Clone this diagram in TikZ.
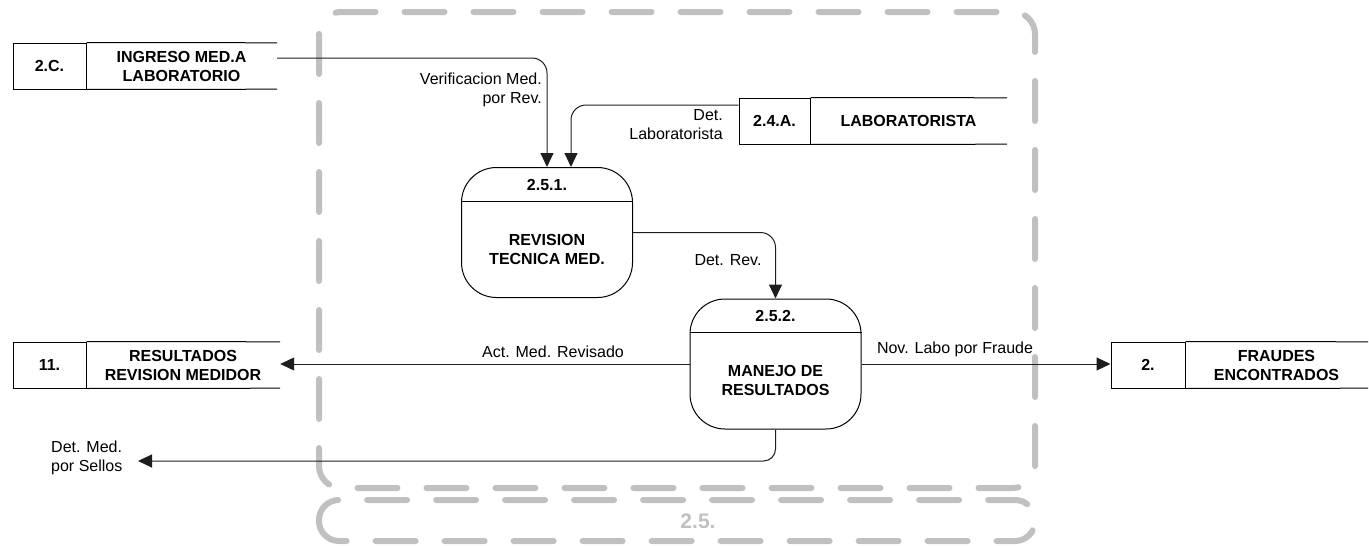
\documentclass[tikz,border=0pt]{standalone}
\usepackage{fontspec}
\setmainfont{Liberation Sans}
\usetikzlibrary{arrows.meta}
\definecolor{boxgray}{RGB}{192,192,192}
\definecolor{flowline}{RGB}{30,30,30}

\begin{document}
\begin{tikzpicture}[x=1pt, y=-1pt,
  every node/.style={inner sep=0pt, font=\fontsize{16}{19}\selectfont},
  storeid/.style={draw, line width=1pt, minimum width=73pt, minimum height=46pt, font=\fontsize{16}{19}\selectfont\bfseries},
  storename/.style={minimum height=46pt, align=center, font=\fontsize{16}{19}\selectfont\bfseries},
  procbox/.style={draw, line width=1pt, rounded corners=35pt, minimum width=171pt, minimum height=130pt},
  proctxt/.style={align=center, font=\fontsize{16}{19}\selectfont\bfseries},
  flow/.style={flowline, line width=1pt, rounded corners=15pt, -{Triangle[length=14pt,width=13pt]}},
  groupline/.style={boxgray, line width=6pt, line cap=round, dash pattern=on 40pt off 29pt, rounded corners=22pt}]
\useasboundingbox (0,0) rectangle (1369,546);

% proceso 2.5 (contorno)
\draw[groupline] (319,12) rectangle (1035,488);
\draw[groupline, rounded corners=20pt] (319,500) rectangle (1035,541);
\node[font=\fontsize{21}{24}\selectfont\bfseries, text=boxgray] (grpid) at (698,521) {2.5.};

% almacenes
\node[storeid] (id2c) at (49.5,66) {2.C.};
\node[storename, minimum width=191pt] (s2c) at (181.5,66) {INGRESO MED.A\\LABORATORIO};
\draw[line width=1pt] (id2c.north east) -- (s2c.north east) (id2c.south east) -- (s2c.south east);

\node[storeid, minimum width=71pt] (id24a) at (774.5,121) {2.4.A.};
\node[storename, minimum width=197pt] (s24a) at (908.5,121) {LABORATORISTA};
\draw[line width=1pt] (id24a.north east) -- (s24a.north east) (id24a.south east) -- (s24a.south east);

\node[storeid] (id11) at (49.5,365) {11.};
\node[storename, minimum width=194pt] (s11) at (183,365) {RESULTADOS\\REVISION MEDIDOR};
\draw[line width=1pt] (id11.north east) -- (s11.north east) (id11.south east) -- (s11.south east);

\node[storeid, minimum width=74pt] (id2) at (1148,365) {2.};
\node[storename, minimum width=183pt] (s2) at (1276.5,365) {FRAUDES\\ENCONTRADOS};
\draw[line width=1pt] (id2.north east) -- (s2.north east) (id2.south east) -- (s2.south east);

% procesos
\node[procbox] (p251) at (547,232.5) {};
\draw[line width=1pt] ([yshift=-34pt]p251.north west) -- ([yshift=-34pt]p251.north east);
\node[proctxt] (p251id) at (547,185) {2.5.1.};
\node[proctxt] (p251nm) at (547,249) {REVISION\\TECNICA MED.};

\node[procbox] (p252) at (775.5,364) {};
\draw[line width=1pt] ([yshift=-34pt]p252.north west) -- ([yshift=-34pt]p252.north east);
\node[proctxt] (p252id) at (775.5,316) {2.5.2.};
\node[proctxt] (p252nm) at (775.5,380) {MANEJO DE\\RESULTADOS};

% flujos
\coordinate (sellostip) at (138,461);
\draw[flow] ([yshift=8pt]s2c.east) -| (p251.north);
\draw[flow] ([yshift=16pt]id24a.west) -| ([xshift=24pt]p251.north);
\draw[flow] (p251.east) -| (p252.north);
\draw[flow] (p252.west) -- (p252.west -| s11.east);
\draw[flow] (p252.east) -- (p252.east -| id2.west);
\draw[flow, rounded corners=12pt] (p252.south) |- (sellostip);

% etiquetas de flujos
\node[align=right, anchor=east] (lverif) at (542,90) {Verificacion Med.\\por Rev.};
\node[align=right, anchor=east] (llab) at (723,125) {Det.\\Laboratorista};
\node (lrev) at (728,260) {Det. Rev.};
\node (lact) at (553,352) {Act. Med. Revisado};
\node (lnov) at (955,349) {Nov. Labo por Fraude};
\node[align=left, anchor=west] (lsellos) at (51,458) {Det. Med.\\por Sellos};
\end{tikzpicture}
\end{document}
